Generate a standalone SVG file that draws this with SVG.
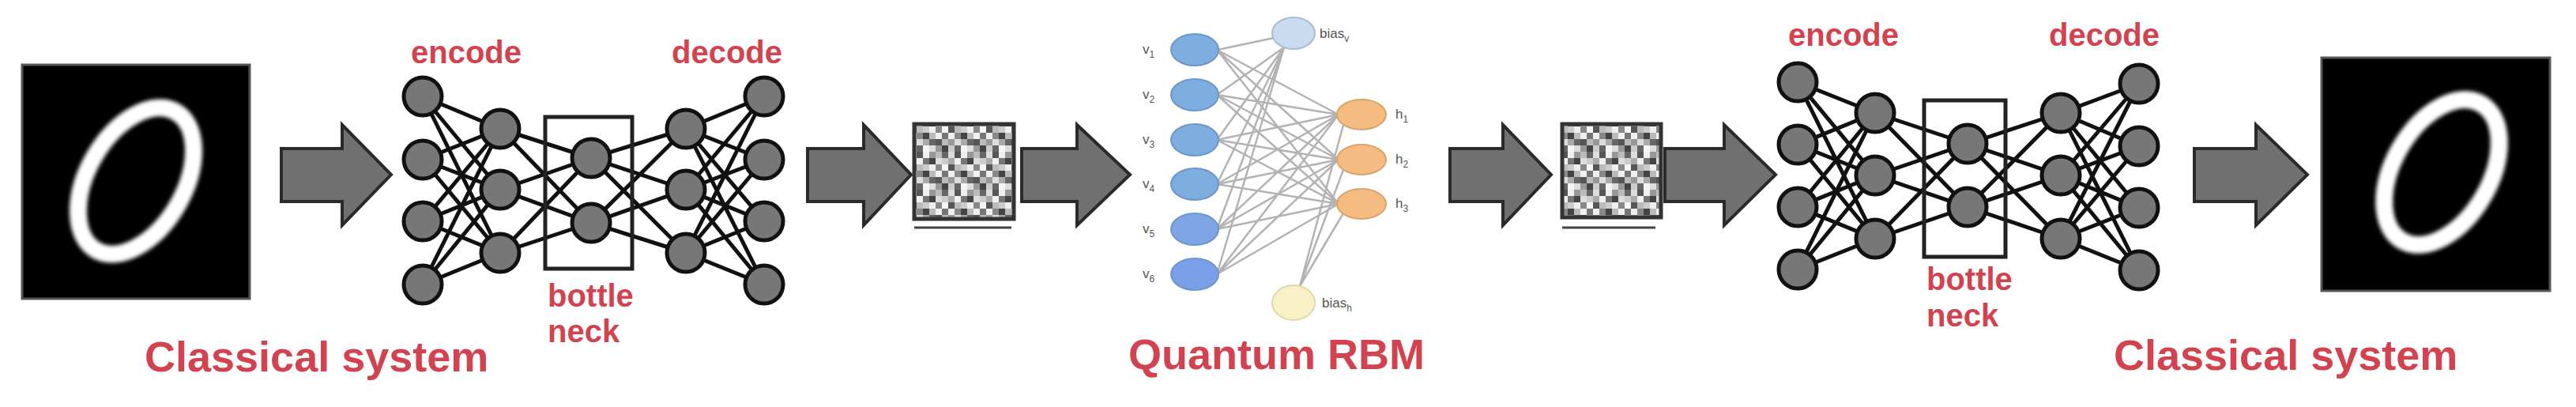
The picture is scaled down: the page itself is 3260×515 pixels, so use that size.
<svg xmlns="http://www.w3.org/2000/svg" width="3260" height="515" viewBox="0 0 3260 515">
<style>
.lbl{font-family:"Liberation Sans",Arial,sans-serif;font-weight:bold;fill:#d2434f}
.big{font-size:54px}
.sm{font-size:40px}
.rl{font-family:"Liberation Sans",Arial,sans-serif;font-size:17px;fill:#555}
.arr{fill:#707070;stroke:#2a2a2a;stroke-width:4;stroke-linejoin:miter}
.e{stroke:#111;stroke-width:5;fill:none}
.n{fill:#777;stroke:#111;stroke-width:5}
.bx{fill:none;stroke:#222;stroke-width:5}
.re{stroke:#b3b3b3;stroke-width:2.5;fill:none}
.vis{fill:#7eaee0;stroke:#6b98c8;stroke-width:2}
.hid{fill:#f6bb80;stroke:#d9a46c;stroke-width:2}
.dig{fill:#000;stroke:#555;stroke-width:3}
.zero{fill:none;stroke:#fff;stroke-width:22}
.noise{fill:url(#np);stroke:#333;stroke-width:5}
.ul{stroke:#444;stroke-width:3}
</style>
<defs>
<filter id="soft" x="-20%" y="-20%" width="140%" height="140%"><feGaussianBlur stdDeviation="2.5"/></filter>
<pattern id="np" width="48" height="48" patternUnits="userSpaceOnUse">
<rect x="0" y="0" width="8" height="8" fill="#ddd"/><rect x="8" y="0" width="8" height="8" fill="#555"/><rect x="16" y="0" width="8" height="8" fill="#eee"/><rect x="24" y="0" width="8" height="8" fill="#999"/><rect x="32" y="0" width="8" height="8" fill="#bbb"/><rect x="40" y="0" width="8" height="8" fill="#666"/>
<rect x="0" y="8" width="8" height="8" fill="#aaa"/><rect x="8" y="8" width="8" height="8" fill="#f0f0f0"/><rect x="16" y="8" width="8" height="8" fill="#777"/><rect x="24" y="8" width="8" height="8" fill="#444"/><rect x="32" y="8" width="8" height="8" fill="#ddd"/><rect x="40" y="8" width="8" height="8" fill="#ccc"/>
<rect x="0" y="16" width="8" height="8" fill="#555"/><rect x="8" y="16" width="8" height="8" fill="#bbb"/><rect x="16" y="16" width="8" height="8" fill="#ccc"/><rect x="24" y="16" width="8" height="8" fill="#eee"/><rect x="32" y="16" width="8" height="8" fill="#888"/><rect x="40" y="16" width="8" height="8" fill="#f5f5f5"/>
<rect x="0" y="24" width="8" height="8" fill="#eee"/><rect x="8" y="24" width="8" height="8" fill="#888"/><rect x="16" y="24" width="8" height="8" fill="#444"/><rect x="24" y="24" width="8" height="8" fill="#bbb"/><rect x="32" y="24" width="8" height="8" fill="#f0f0f0"/><rect x="40" y="24" width="8" height="8" fill="#777"/>
<rect x="0" y="32" width="8" height="8" fill="#999"/><rect x="8" y="32" width="8" height="8" fill="#ddd"/><rect x="16" y="32" width="8" height="8" fill="#aaa"/><rect x="24" y="32" width="8" height="8" fill="#666"/><rect x="32" y="32" width="8" height="8" fill="#555"/><rect x="40" y="32" width="8" height="8" fill="#bbb"/>
<rect x="0" y="40" width="8" height="8" fill="#ccc"/><rect x="8" y="40" width="8" height="8" fill="#666"/><rect x="16" y="40" width="8" height="8" fill="#f5f5f5"/><rect x="24" y="40" width="8" height="8" fill="#ddd"/><rect x="32" y="40" width="8" height="8" fill="#999"/><rect x="40" y="40" width="8" height="8" fill="#444"/>
</pattern>
</defs>
<rect width="3260" height="515" fill="#fff"/>

<!-- input / output digit images -->
<g id="input-image">
<rect class="dig" x="28" y="82" width="288" height="296"/>
<ellipse class="zero" cx="172" cy="229" rx="61" ry="101" transform="rotate(30 172 229)" filter="url(#soft)"/>
</g>
<g id="output-image">
<rect class="dig" x="2938" y="73" width="289" height="295"/>
<ellipse class="zero" cx="3090" cy="218" rx="61" ry="100" transform="rotate(30 3090 218)" filter="url(#soft)"/>
</g>

<g id="connectors">
<g id="flow-arrows">
<polygon class="arr" points="356,188 433,188 433,158 495,221 433,285 433,255 356,255"/>
<polygon class="arr" points="1022,188 1093,188 1093,158 1153,221 1093,285 1093,255 1022,255"/>
<polygon class="arr" points="1293,188 1363,188 1363,158 1430,221 1363,285 1363,255 1293,255"/>
<polygon class="arr" points="1835,188 1902,188 1902,158 1963,221 1902,285 1902,255 1835,255"/>
<polygon class="arr" points="2107,188 2182,188 2182,158 2247,221 2182,285 2182,255 2107,255"/>
<polygon class="arr" points="2777,188 2855,188 2855,158 2920,221 2855,285 2855,255 2777,255"/>
</g>
<g id="ae1-edges">
<path class="e" d="M535 122L633 163M535 122L633 240M535 122L633 320M535 202L633 163M535 202L633 240M535 202L633 320M535 280L633 163M535 280L633 240M535 280L633 320M535 360L633 163M535 360L633 240M535 360L633 320"/>
<path class="e" d="M633 163L748 200M633 163L748 282M633 240L748 200M633 240L748 282M633 320L748 200M633 320L748 282"/>
<path class="e" d="M748 200L868 163M748 200L868 240M748 200L868 320M748 282L868 163M748 282L868 240M748 282L868 320"/>
<path class="e" d="M868 163L967 122M868 163L967 202M868 163L967 280M868 163L967 360M868 240L967 122M868 240L967 202M868 240L967 280M868 240L967 360M868 320L967 122M868 320L967 202M868 320L967 280M868 320L967 360"/>
</g>
<g id="ae2-edges">
<path class="e" d="M2275 104L2373 143M2275 104L2373 222M2275 104L2373 302M2275 183L2373 143M2275 183L2373 222M2275 183L2373 302M2275 262L2373 143M2275 262L2373 222M2275 262L2373 302M2275 341L2373 143M2275 341L2373 222M2275 341L2373 302"/>
<path class="e" d="M2373 143L2490 182M2373 143L2490 262M2373 222L2490 182M2373 222L2490 262M2373 302L2490 182M2373 302L2490 262"/>
<path class="e" d="M2490 182L2608 143M2490 182L2608 222M2490 182L2608 302M2490 262L2608 143M2490 262L2608 222M2490 262L2608 302"/>
<path class="e" d="M2608 143L2707 106M2608 143L2707 185M2608 143L2707 263M2608 143L2707 342M2608 222L2707 106M2608 222L2707 185M2608 222L2707 263M2608 222L2707 342M2608 302L2707 106M2608 302L2707 185M2608 302L2707 263M2608 302L2707 342"/>
</g>
<g id="rbm-edges">
<path class="re" d="M1540 63L1694 145M1540 63L1694 202M1540 63L1694 258M1540 120L1694 145M1540 120L1694 202M1540 120L1694 258M1540 177L1694 145M1540 177L1694 202M1540 177L1694 258M1540 233L1694 145M1540 233L1694 202M1540 233L1694 258M1540 290L1694 145M1540 290L1694 202M1540 290L1694 258M1540 347L1694 145M1540 347L1694 202M1540 347L1694 258"/>
<path class="re" d="M1612 48L1541 63M1625 60L1540 120M1625 60L1540 177M1625 60L1540 233M1625 60L1540 290M1625 60L1540 347"/>
<path class="re" d="M1645 362L1700 158M1645 362L1700 215M1645 362L1700 270"/>
</g>
</g>

<!-- autoencoder 1 -->
<g id="ae1">
<rect class="bx" x="690" y="148" width="110" height="192"/>
<g id="ae1-in1"><circle class="n" cx="535" cy="122" r="24"/></g>
<g id="ae1-in2"><circle class="n" cx="535" cy="202" r="24"/></g>
<g id="ae1-in3"><circle class="n" cx="535" cy="280" r="24"/></g>
<g id="ae1-in4"><circle class="n" cx="535" cy="360" r="24"/></g>
<g id="ae1-enc1"><circle class="n" cx="633" cy="163" r="24"/></g>
<g id="ae1-enc2"><circle class="n" cx="633" cy="240" r="24"/></g>
<g id="ae1-enc3"><circle class="n" cx="633" cy="320" r="24"/></g>
<g id="ae1-bn1"><circle class="n" cx="748" cy="200" r="24"/></g>
<g id="ae1-bn2"><circle class="n" cx="748" cy="282" r="24"/></g>
<g id="ae1-dec1"><circle class="n" cx="868" cy="163" r="24"/></g>
<g id="ae1-dec2"><circle class="n" cx="868" cy="240" r="24"/></g>
<g id="ae1-dec3"><circle class="n" cx="868" cy="320" r="24"/></g>
<g id="ae1-out1"><circle class="n" cx="967" cy="122" r="24"/></g>
<g id="ae1-out2"><circle class="n" cx="967" cy="202" r="24"/></g>
<g id="ae1-out3"><circle class="n" cx="967" cy="280" r="24"/></g>
<g id="ae1-out4"><circle class="n" cx="967" cy="360" r="24"/></g>
<text class="lbl sm" x="590" y="80" text-anchor="middle">encode</text>
<text class="lbl sm" x="920" y="80" text-anchor="middle">decode</text>
<text class="lbl sm" x="693" y="388">bottle</text>
<text class="lbl sm" x="693" y="433">neck</text>
</g>

<!-- latent noise images -->
<g id="latent1">
<rect class="noise" x="1157" y="157" width="126" height="120"/>
<line class="ul" x1="1157" y1="288" x2="1280" y2="288"/>
</g>
<g id="latent2">
<rect class="noise" x="1977" y="157" width="125" height="118"/>
<line class="ul" x1="1977" y1="288" x2="2095" y2="288"/>
</g>

<!-- RBM -->
<g id="rbm">
<g id="bias-top"><ellipse cx="1637" cy="42" rx="27" ry="20" fill="#c9dcef" stroke="#a9bdd2" stroke-width="2"/><text class="rl" x="1670" y="48">bias<tspan font-size="12" dy="5">v</tspan></text></g>
<g id="v1"><ellipse class="vis" cx="1512" cy="63" rx="30" ry="20"/><text class="rl" x="1446" y="68">v<tspan font-size="12" dy="5">1</tspan></text></g>
<g id="v2"><ellipse class="vis" cx="1512" cy="120" rx="30" ry="20"/><text class="rl" x="1446" y="125">v<tspan font-size="12" dy="5">2</tspan></text></g>
<g id="v3"><ellipse class="vis" cx="1512" cy="177" rx="30" ry="20"/><text class="rl" x="1446" y="182">v<tspan font-size="12" dy="5">3</tspan></text></g>
<g id="v4"><ellipse class="vis" cx="1512" cy="233" rx="30" ry="20"/><text class="rl" x="1446" y="238">v<tspan font-size="12" dy="5">4</tspan></text></g>
<g id="v5"><ellipse class="vis" cx="1512" cy="290" rx="30" ry="20" style="fill:#7ea6e6"/><text class="rl" x="1446" y="295">v<tspan font-size="12" dy="5">5</tspan></text></g>
<g id="v6"><ellipse class="vis" cx="1512" cy="347" rx="30" ry="20" style="fill:#7c9fea"/><text class="rl" x="1446" y="352">v<tspan font-size="12" dy="5">6</tspan></text></g>
<g id="h1"><ellipse class="hid" cx="1723" cy="145" rx="31" ry="19"/><text class="rl" x="1766" y="150">h<tspan font-size="12" dy="5">1</tspan></text></g>
<g id="h2"><ellipse class="hid" cx="1723" cy="202" rx="31" ry="19"/><text class="rl" x="1766" y="207">h<tspan font-size="12" dy="5">2</tspan></text></g>
<g id="h3"><ellipse class="hid" cx="1723" cy="258" rx="31" ry="19"/><text class="rl" x="1766" y="263">h<tspan font-size="12" dy="5">3</tspan></text></g>
<g id="bias-bottom"><ellipse cx="1637" cy="383" rx="27" ry="22" fill="#f8f1c8" stroke="#e2d9a8" stroke-width="2"/><text class="rl" x="1673" y="389">bias<tspan font-size="12" dy="5">h</tspan></text></g>
</g>

<!-- autoencoder 2 -->
<g id="ae2">
<rect class="bx" x="2435" y="127" width="103" height="198"/>
<g id="ae2-in1"><circle class="n" cx="2275" cy="104" r="24"/></g>
<g id="ae2-in2"><circle class="n" cx="2275" cy="183" r="24"/></g>
<g id="ae2-in3"><circle class="n" cx="2275" cy="262" r="24"/></g>
<g id="ae2-in4"><circle class="n" cx="2275" cy="341" r="24"/></g>
<g id="ae2-enc1"><circle class="n" cx="2373" cy="143" r="24"/></g>
<g id="ae2-enc2"><circle class="n" cx="2373" cy="222" r="24"/></g>
<g id="ae2-enc3"><circle class="n" cx="2373" cy="302" r="24"/></g>
<g id="ae2-bn1"><circle class="n" cx="2490" cy="182" r="24"/></g>
<g id="ae2-bn2"><circle class="n" cx="2490" cy="262" r="24"/></g>
<g id="ae2-dec1"><circle class="n" cx="2608" cy="143" r="24"/></g>
<g id="ae2-dec2"><circle class="n" cx="2608" cy="222" r="24"/></g>
<g id="ae2-dec3"><circle class="n" cx="2608" cy="302" r="24"/></g>
<g id="ae2-out1"><circle class="n" cx="2707" cy="106" r="24"/></g>
<g id="ae2-out2"><circle class="n" cx="2707" cy="185" r="24"/></g>
<g id="ae2-out3"><circle class="n" cx="2707" cy="263" r="24"/></g>
<g id="ae2-out4"><circle class="n" cx="2707" cy="342" r="24"/></g>
<text class="lbl sm" x="2333" y="58" text-anchor="middle">encode</text>
<text class="lbl sm" x="2663" y="58" text-anchor="middle">decode</text>
<text class="lbl sm" x="2438" y="367">bottle</text>
<text class="lbl sm" x="2438" y="413">neck</text>
</g>

<g id="captions">
<text class="lbl big" x="183" y="470">Classical system</text>
<text class="lbl big" x="1428" y="467">Quantum RBM</text>
<text class="lbl big" x="2675" y="468">Classical system</text>
</g>
</svg>
